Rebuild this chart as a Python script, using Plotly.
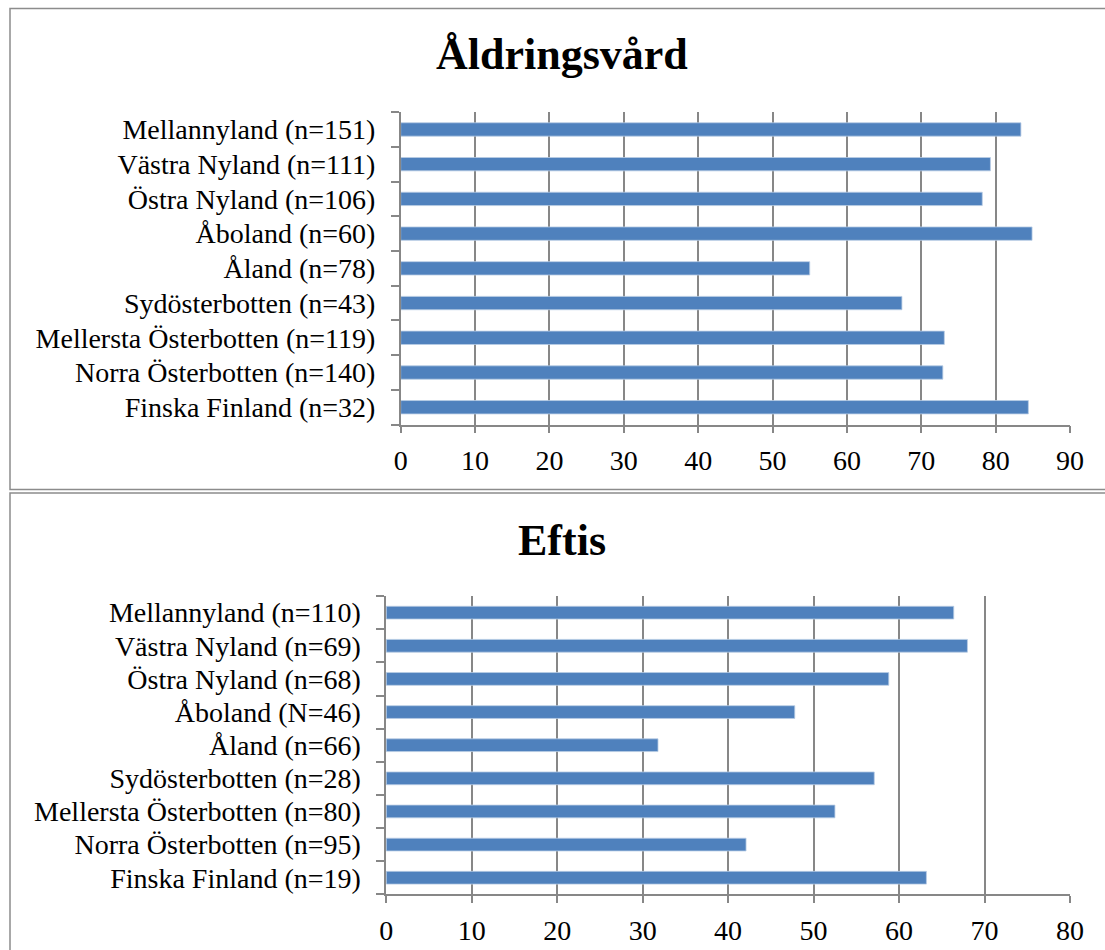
import plotly.graph_objects as go

# Regions shown in both charts (top to bottom)
aldringsvard_regions = [
    "Mellannyland (n=151)",
    "Västra Nyland (n=111)",
    "Östra Nyland (n=106)",
    "Åboland (n=60)",
    "Åland (n=78)",
    "Sydösterbotten (n=43)",
    "Mellersta Österbotten (n=119)",
    "Norra Österbotten (n=140)",
    "Finska Finland (n=32)",
]
aldringsvard_values = [83.4, 79.3, 78.2, 84.9, 55.0, 67.4, 73.1, 72.9, 84.4]

eftis_regions = [
    "Mellannyland (n=110)",
    "Västra Nyland (n=69)",
    "Östra Nyland (n=68)",
    "Åboland (N=46)",
    "Åland (n=66)",
    "Sydösterbotten (n=28)",
    "Mellersta Österbotten (n=80)",
    "Norra Österbotten (n=95)",
    "Finska Finland (n=19)",
]
eftis_values = [66.4, 68.0, 58.8, 47.8, 31.8, 57.1, 52.5, 42.1, 63.2]

titles = ["Åldringsvård", "Eftis"]
x_ticks_top = list(range(0, 100, 10))
x_ticks_bottom = list(range(0, 90, 10))

W, H = 1105, 950
BAR = "#4F81BD"
GRID = "#878787"
FONT = "Liberation Serif"


def px(x):
    return x / W


def py(y):
    return 1 - y / H


fig = go.Figure()
fig.add_trace(go.Bar(
    x=aldringsvard_values, y=aldringsvard_regions, orientation="h",
    marker=dict(color=BAR, line=dict(color="#B9CDE5", width=0.8)),
    xaxis="x", yaxis="y", showlegend=False,
))
fig.add_trace(go.Bar(
    x=eftis_values, y=eftis_regions, orientation="h",
    marker=dict(color=BAR, line=dict(color="#B9CDE5", width=0.8)),
    xaxis="x2", yaxis="y2", showlegend=False,
))

# Fixed plot areas: margins are never pushed by the tick labels.
common_x = dict(
    automargin=False,
    showgrid=True, gridcolor=GRID, gridwidth=1.5,
    showline=True, linecolor=GRID, linewidth=1.5,
    ticks="outside", ticklen=7, tickcolor=GRID, tickwidth=1.5,
    zeroline=False, tickfont=dict(family=FONT, size=28, color="black"),
    ticklabelstandoff=3,
)
common_y = dict(
    automargin=False,
    showgrid=False, showline=True, linecolor=GRID, linewidth=1.5,
    ticks="outside", ticklen=8, tickcolor=GRID, tickwidth=1.5,
    tickson="boundaries", autorange="reversed", zeroline=False,
    tickmode="array",
    tickfont=dict(family=FONT, size=28, color="black"),
    ticklabelstandoff=18,
)

fig.update_layout(
    template="none",
    width=W, height=H,
    margin=dict(l=0, r=0, t=0, b=0, pad=0),
    paper_bgcolor="white", plot_bgcolor="white",
    bargap=0.615,
    xaxis=dict(domain=[px(400.7), px(1070)], range=[0, 90],
               tickvals=x_ticks_top, anchor="y", **common_x),
    yaxis=dict(domain=[py(424.6), py(112.1)], anchor="x",
               tickvals=aldringsvard_regions, **common_y),
    xaxis2=dict(domain=[px(386.2), px(1070)], range=[0, 80],
                tickvals=x_ticks_bottom, anchor="y2", **common_x),
    yaxis2=dict(domain=[py(894.3), py(596.1)], anchor="x2",
                tickvals=eftis_regions, **common_y),
    shapes=[
        dict(type="rect", xref="paper", yref="paper",
             x0=px(10), x1=1.05, y0=py(489.5), y1=py(8.5),
             line=dict(color="#8C8C8C", width=1.5)),
        dict(type="rect", xref="paper", yref="paper",
             x0=px(10), x1=1.05, y0=-0.05, y1=py(493),
             line=dict(color="#8C8C8C", width=1.5)),
    ],
    annotations=[
        dict(text="<b>%s</b>" % titles[0], xref="paper", yref="paper",
             x=px(561.5), y=py(55), xanchor="center", yanchor="middle",
             showarrow=False, font=dict(family=FONT, size=44, color="black")),
        dict(text="<b>%s</b>" % titles[1], xref="paper", yref="paper",
             x=px(561.5), y=py(540), xanchor="center", yanchor="middle",
             showarrow=False, font=dict(family=FONT, size=44, color="black")),
    ],
)

fig.write_html("out.html")
